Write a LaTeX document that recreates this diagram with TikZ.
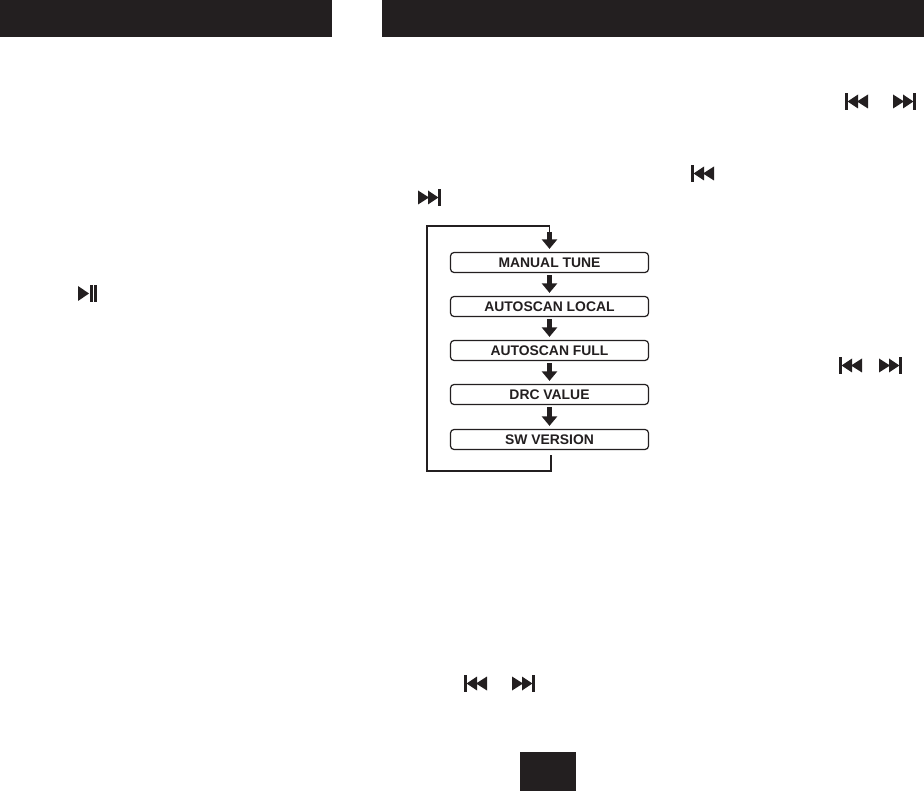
\documentclass[tikz,border=0pt]{standalone}
\usepackage{fontspec}
\setmainfont{Liberation Sans}
\usetikzlibrary{arrows.meta}
\definecolor{ink}{HTML}{231F20}
\tikzset{
  menubox/.style={draw=ink,line width=1.2pt,rounded corners=3.5pt,fill=white,text=ink,
    minimum width=198pt,minimum height=20pt,inner sep=0pt,
    font=\fontsize{13.9}{15}\selectfont\bfseries},
  stepflow/.style={draw=ink,line width=5.6pt,-{Triangle[length=9.5pt,width=15pt]},shorten <=2pt,shorten >=3pt},
  loopline/.style={draw=ink,line width=1.9pt},
  blackblock/.style={fill=ink,draw=none,inner sep=0pt,anchor=north west},
  previcon/.pic={
    \fill[ink] (0,0) rectangle (2.6,17);
    \fill[ink] (13,1.5) -- (2.6,8.5) -- (13,15.5) -- cycle;
    \fill[ink] (23,1.5) -- (12,8.5) -- (23,15.5) -- cycle;
  },
  nexticon/.pic={
    \fill[ink] (23,0) rectangle (20.4,17);
    \fill[ink] (10,1.5) -- (20.4,8.5) -- (10,15.5) -- cycle;
    \fill[ink] (0,1.5) -- (11,8.5) -- (0,15.5) -- cycle;
  },
  playpauseicon/.pic={
    \fill[ink] (0,1) -- (11,8.5) -- (0,16) -- cycle;
    \fill[ink] (12,0) rectangle (15.3,17);
    \fill[ink] (16.3,0) rectangle (19,17);
  }
}
\begin{document}
\begin{tikzpicture}[x=1pt,y=-1pt]
\useasboundingbox (0,0) rectangle (924,791);
% header bars and page number block
\node[blackblock,minimum width=332pt,minimum height=37pt] (headL) at (0,0) {};
\node[blackblock,minimum width=542pt,minimum height=37pt] (headR) at (382,0) {};
\node[blackblock,minimum width=56pt,minimum height=39pt] (pageblock) at (520,752) {};
% menu boxes
\node[menubox] (a) at (549.5,262.5) {MANUAL TUNE};
\node[menubox] (b) at (549.5,306.5) {AUTOSCAN LOCAL};
\node[menubox] (c) at (549.5,350.5) {AUTOSCAN FULL};
\node[menubox] (d) at (549.5,394.5) {DRC VALUE};
\node[menubox] (e) at (549.5,439.5) {SW VERSION};
% loop
\coordinate (loopin) at (549.5,232);
\coordinate (loopstart) at ([xshift=1.5pt,yshift=-5pt]e.south);
\coordinate (loopbl) at (427,471);
\coordinate (looptl) at (427,226);
\draw[loopline] (loopstart) |- (loopbl) -- (looptl) -| (loopin);
% arrows
\draw[stepflow,shorten <=0pt] (loopin) -- (a.north);
\draw[stepflow] (a.south) -- (b.north);
\draw[stepflow] (b.south) -- (c.north);
\draw[stepflow] (c.south) -- (d.north);
\draw[stepflow] (d.south) -- (e.north);
% transport icons
\pic at (845,93) {previcon};
\pic at (893,93) {nexticon};
\pic at (691,165) {previcon};
\pic at (418,189) {nexticon};
\pic at (78,285) {playpauseicon};
\pic at (839,357) {previcon};
\pic at (879,357) {nexticon};
\pic at (464,675) {previcon};
\pic at (512,675) {nexticon};
\end{tikzpicture}
\end{document}
